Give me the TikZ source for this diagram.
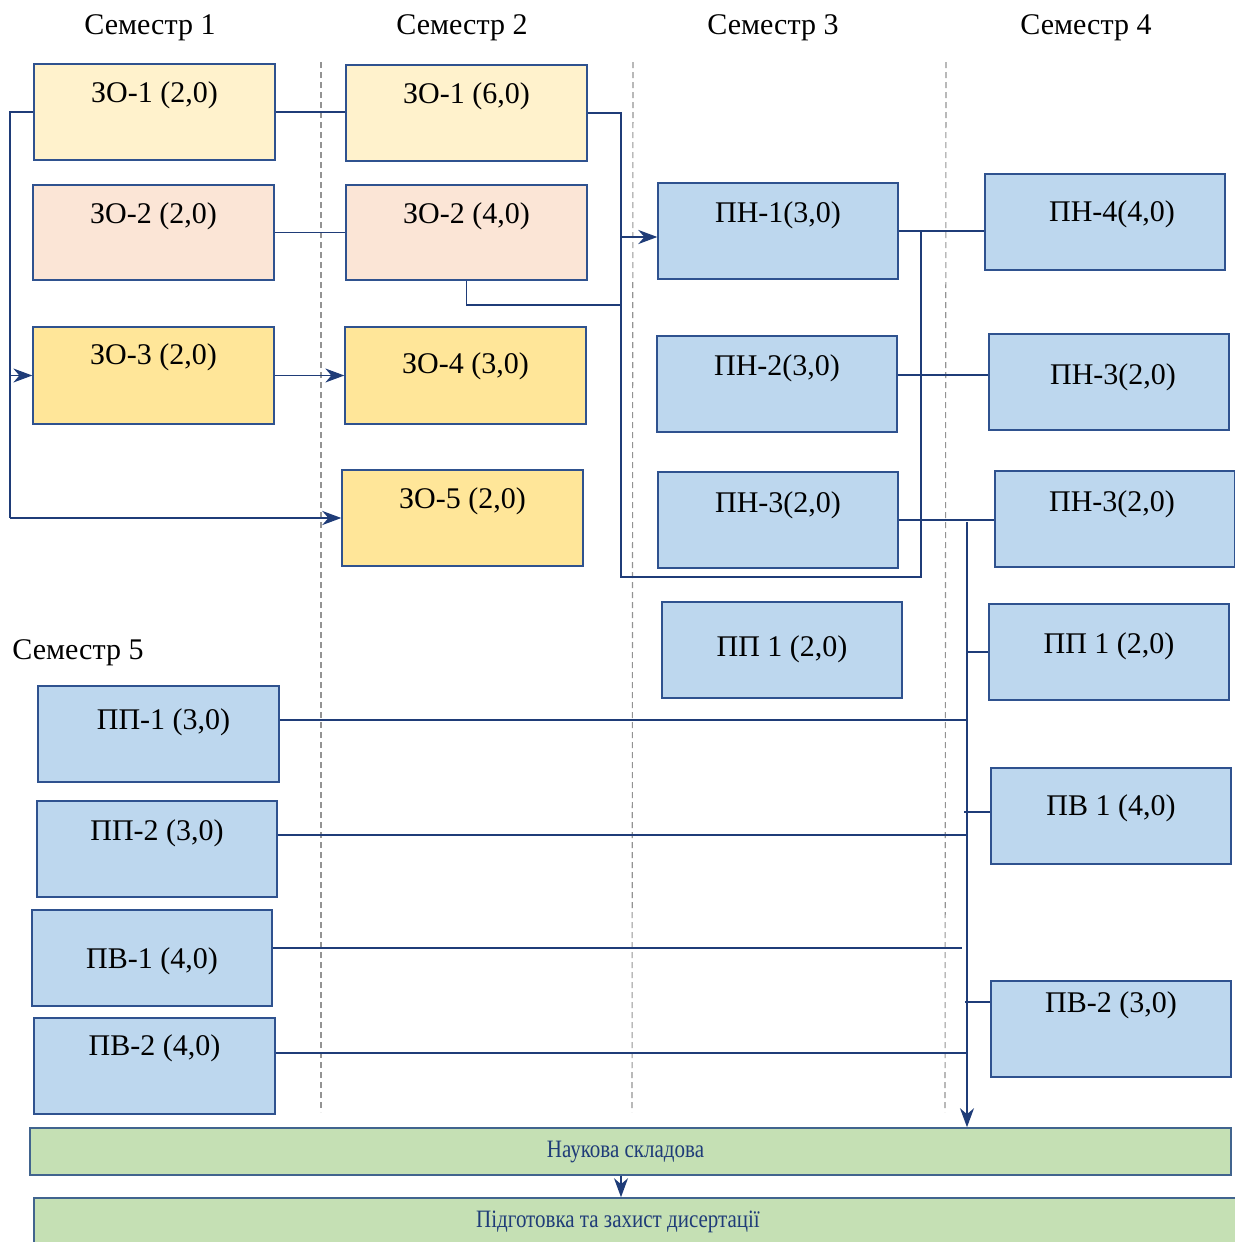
\documentclass[tikz,border=0pt]{standalone}
\usepackage{fontspec}
\setmainfont{Liberation Serif}
\usetikzlibrary{arrows.meta, calc, positioning}

\definecolor{zoA}{HTML}{FFF2CC}
\definecolor{zoB}{HTML}{FBE5D6}
\definecolor{zoC}{HTML}{FFE699}
\definecolor{pnC}{HTML}{BDD7EE}
\definecolor{grC}{HTML}{C5E0B4}
\definecolor{boxc}{HTML}{2F528F}
\definecolor{wirec}{HTML}{1F3C78}
\definecolor{bandc}{HTML}{41648E}

\tikzset{
  box/.style={draw=boxc, line width=1.3pt, minimum width=240pt, minimum height=96pt, inner sep=0pt},
  txt/.style={anchor=base, inner sep=0pt, font=\fontsize{30}{36}\selectfont},
  head/.style={inner sep=0pt, font=\fontsize{30}{36}\selectfont},
  wire/.style={draw=wirec, line width=1.3pt},
  fat/.style={draw=wirec, line width=2.6pt},
  arr/.style={-{Stealth[length=19pt, width=14pt, inset=6pt]}, fill=wirec},
  sep/.style={draw=gray!85, line width=1.1pt, dash pattern=on 6pt off 4pt},
  band/.style={draw=bandc, fill=grC, line width=1.6pt, minimum width=1201pt, minimum height=47pt, inner sep=0pt},
  bandtxt/.style={text=wirec, inner sep=0pt, font=\fontsize{25}{30}\selectfont\addfontfeature{FakeStretch=0.84}},
}

\begin{document}
\begin{tikzpicture}[x=1pt, y=-1pt]
    \useasboundingbox (0,0) rectangle (1234,1242);

    % semesters
    \node[head] (s1) at (150,28) {Семестр 1};
    \node[head] (s2) at (462,28) {Семестр 2};
    \node[head] (s3) at (773,28) {Семестр 3};
    \node[head] (s4) at (1086,28) {Семестр 4};
    \node[head] (s5) at (78,653) {Семестр 5};

    \draw[sep] (321,62) -- (321,1112);
    \draw[sep] (633,62) -- (632,1112);
    \draw[sep] (946,62) -- (945,1112);

    % semester 1 and 2
    \node[box, fill=zoA, minimum width=241pt, label={[txt, yshift=-39pt]north:{ЗО-1 (2,0)}}] (zo1a) at (154.5,112) {};
    \node[box, fill=zoB, minimum width=241pt, minimum height=95pt, label={[txt, yshift=-39pt]north:{ЗО-2 (2,0)}}] (zo2a) at (153.5,232.5) {};
    \node[box, fill=zoC, minimum width=241pt, minimum height=97pt, label={[txt, yshift=-38pt]north:{ЗО-3 (2,0)}}] (zo3a) at (153.5,375.5) {};
    \node[box, fill=zoA, minimum width=241pt, label={[txt, yshift=-39pt]north:{ЗО-1 (6,0)}}] (zo1b) at (466.5,113) {};
    \node[box, fill=zoB, minimum width=241pt, minimum height=95pt, label={[txt, yshift=-39pt]north:{ЗО-2 (4,0)}}] (zo2b) at (466.5,232.5) {};
    \node[box, fill=zoC, minimum width=241pt, minimum height=97pt, label={[txt, yshift=-47pt]north:{ЗО-4 (3,0)}}] (zo4) at (465.5,375.5) {};
    \node[box, fill=zoC, minimum width=241pt, label={[txt, yshift=-39pt]north:{ЗО-5 (2,0)}}] (zo5) at (462.5,518) {};

    % semester 3
    \node[box, fill=pnC, label={[txt, yshift=-40pt]north:{ПН-1(3,0)}}] (pn1) at (778,231) {};
    \node[box, fill=pnC, label={[txt, yshift=-40pt]north:{ПН-2(3,0)}}] (pn2) at (777,384) {};
    \node[box, fill=pnC, label={[txt, yshift=-41pt]north:{ПН-3(2,0)}}] (pn3a) at (778,520) {};
    \node[box, fill=pnC, label={[txt, yshift=-55pt]north:{ПП 1 (2,0)}}] (pp1a) at (782,650) {};

    % semester 4
    \node[box, fill=pnC, label={[txt, xshift=7pt, yshift=-48pt]north:{ПН-4(4,0)}}] (pn4) at (1105,222) {};
    \node[box, fill=pnC, label={[txt, xshift=4pt, yshift=-51pt]north:{ПН-3(2,0)}}] (pn3b) at (1109,382) {};
    \node[box, fill=pnC, label={[txt, xshift=-3pt, yshift=-41pt]north:{ПН-3(2,0)}}] (pn3c) at (1115,519) {};
    \node[box, fill=pnC, label={[txt, yshift=-50pt]north:{ПП 1 (2,0)}}] (pp1b) at (1109,652) {};
    \node[box, fill=pnC, label={[txt, yshift=-48pt]north:{ПВ 1 (4,0)}}] (pv1) at (1111,816) {};
    \node[box, fill=pnC, label={[txt, yshift=-32pt]north:{ПВ-2 (3,0)}}] (pv2b) at (1111,1029) {};

    % semester 5
    \node[box, fill=pnC, minimum width=241pt, label={[txt, xshift=5pt, yshift=-44pt]north:{ПП-1 (3,0)}}] (pp1) at (158.5,734) {};
    \node[box, fill=pnC, label={[txt, yshift=-40pt]north:{ПП-2 (3,0)}}] (pp2) at (157,849) {};
    \node[box, fill=pnC, label={[txt, yshift=-59pt]north:{ПВ-1 (4,0)}}] (pv1s) at (152,958) {};
    \node[box, fill=pnC, minimum width=241pt, label={[txt, yshift=-38pt]north:{ПВ-2 (4,0)}}] (pv2s) at (154.5,1066) {};

    % science part
    \node[band, label={[bandtxt, xshift=-5pt]center:{Наукова складова}}] (nauk) at (630.5,1151.5) {};
    \node[band, minimum width=1210pt, label={[bandtxt, xshift=-21pt]center:{Підготовка та захист дисертації}}] (pidg) at (639,1221.5) {};

    % links
    \coordinate (lft) at (10,518);
    \coordinate (bus) at (621,577);
    \coordinate (loop) at (921,577);
    \coordinate (trk) at (967,522);
    \coordinate (z2) at (621,305);

    \draw[wire] (zo1a.west) -| (lft);
    \draw[fat, arr] (lft) -- (lft -| zo5.west);
    \draw[wire, arr] (zo3a.west -| lft) -- (zo3a.west);
    \draw[wire] (zo1a.east) -- (zo1a.east -| zo1b.west);
    \draw[wire] (zo2a.east) -- (zo2b.west);
    \draw[wire, arr] (zo3a.east) -- (zo4.west);

    \draw[wire] (zo1b.east) -| (bus) -- (loop) -- (loop |- pn1.east);
    \draw[wire] (zo2b.south) |- (z2);
    \draw[fat, arr] ([yshift=-6pt]pn1.west -| bus) -- ([yshift=-6pt]pn1.west);

    \draw[wire] (pn1.east) -- (pn1.east -| pn4.west);
    \draw[wire] ([yshift=9pt]pn2.east) -- ([yshift=9pt]pn2.east -| pn3b.west);
    \draw[wire] (pn3a.east) -- (pn3a.east -| pn3c.west);

    \draw[wire, arr] (trk) -- (trk |- nauk.north);
    \draw[wire] (trk |- pp1b.west) -- (pp1b.west);
    \draw[wire] ([xshift=-3pt, yshift=4pt]trk |- pv1.west) -- ([yshift=4pt]pv1.west);
    \draw[wire] ([xshift=-2pt, yshift=27pt]trk |- pv2b.west) -- ([yshift=27pt]pv2b.west);

    \draw[wire] ([yshift=14pt]pp1.east) coordinate (a1) -- (a1 -| trk);
    \draw[wire] ([yshift=14pt]pp2.east) coordinate (a2) -- (a2 -| trk);
    \draw[wire] ([yshift=10pt]pv1s.east) coordinate (a3) -- ([xshift=-5pt]a3 -| trk);
    \draw[wire] ([yshift=13pt]pv2s.east) coordinate (a4) -- (a4 -| trk);

    \draw[wire, arr] (nauk.south -| bus) -- (pidg.north -| bus);
\end{tikzpicture}
\end{document}
